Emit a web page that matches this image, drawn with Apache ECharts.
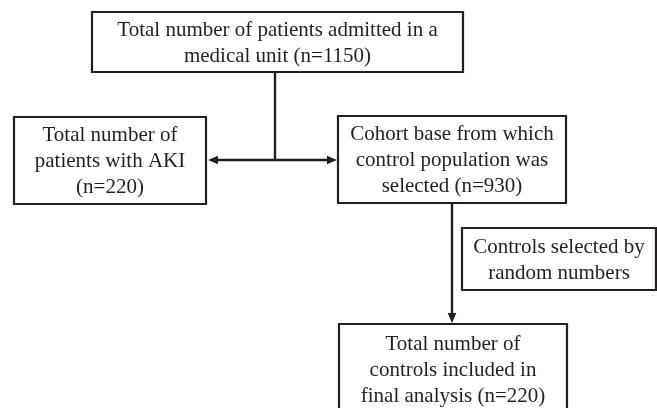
<!DOCTYPE html>
<html>
<head>
<meta charset="utf-8">
<script src="https://cdn.jsdelivr.net/npm/echarts@6/dist/echarts.min.js"></script>
<style>html,body{margin:0;padding:0;background:#fff;}#c{width:657px;height:408px;}</style>
</head>
<body>
<div id="c"></div>
<script>
// Flowchart content
const nodeLabels = [
  "Total number of patients admitted in a\nmedical unit (n=1150)",
  "Total number of\npatients with AKI\n(n=220)",
  "Cohort base from which\ncontrol population was\nselected (n=930)",
  "Controls selected by\nrandom numbers",
  "Total number of\ncontrols included in\nfinal analysis (n=220)"
];
const nodeCounts = [1150, 220, 930, null, 220];

// Layout (pixel space of the 657x408 canvas)
const boxLayout = [
  [92, 12, 463, 72],
  [14, 117, 206, 204],
  [338, 116, 566, 203],
  [462, 228, 656, 290],
  [339, 324, 567, 414]
];
// connectors: [x0,y0,x1,y1, arrowAtStart, arrowAtEnd]
const connectors = [
  [275, 72, 275, 160, 0, 0],
  [208, 160, 337, 160, 1, 1],
  [452, 203, 452, 323, 0, 1]
];

const INK = '#231f20';
const FONT = '"Liberation Serif", "Times New Roman", serif';

const chart = echarts.init(document.getElementById('c'), null, {renderer: 'canvas'});

function arrowHead(tip, dir, len, half) {
  const bx = tip[0] - dir[0] * len, by = tip[1] - dir[1] * len;
  const nx = -dir[1], ny = dir[0];
  return [[tip[0], tip[1]], [bx + nx * half, by + ny * half], [bx - nx * half, by - ny * half]];
}

chart.setOption({
  animation: false,
  backgroundColor: '#fff',
  grid: {left: 0, right: 0, top: 0, bottom: 0},
  xAxis: {type: 'value', min: 0, max: 657, show: false},
  yAxis: {type: 'value', min: 0, max: 408, inverse: true, show: false},
  series: [
    {
      type: 'custom',
      coordinateSystem: 'cartesian2d',
      data: connectors.map(c => c.slice()),
      renderItem: function (params, api) {
        const a = api.coord([api.value(0), api.value(1)]);
        const b = api.coord([api.value(2), api.value(3)]);
        const s = api.value(4), e = api.value(5);
        const dx = b[0] - a[0], dy = b[1] - a[1];
        const L = Math.sqrt(dx * dx + dy * dy);
        const u = [dx / L, dy / L];
        const children = [];
        const la = s ? [a[0] + u[0] * 7, a[1] + u[1] * 7] : a;
        const lb = e ? [b[0] - u[0] * 7, b[1] - u[1] * 7] : b;
        children.push({type: 'line', shape: {x1: la[0], y1: la[1], x2: lb[0], y2: lb[1]}, style: {stroke: INK, lineWidth: 2.4}});
        if (e) children.push({type: 'polygon', shape: {points: arrowHead(b, u, 10, 4.3)}, style: {fill: INK}});
        if (s) children.push({type: 'polygon', shape: {points: arrowHead(a, [-u[0], -u[1]], 10, 4.3)}, style: {fill: INK}});
        return {type: 'group', children: children};
      }
    },
    {
      type: 'custom',
      coordinateSystem: 'cartesian2d',
      data: boxLayout.map((b, i) => [b[0], b[1], b[2], b[3], i]),
      renderItem: function (params, api) {
        const p0 = api.coord([api.value(0), api.value(1)]);
        const p1 = api.coord([api.value(2), api.value(3)]);
        const idx = api.value(4);
        return {
          type: 'rect',
          shape: {x: p0[0], y: p0[1], width: p1[0] - p0[0], height: p1[1] - p0[1]},
          style: {fill: '#fff', stroke: INK, lineWidth: 2.2},
          textContent: {
            style: {
              text: nodeLabels[idx],
              fill: '#231f20',
              fontFamily: FONT,
              fontSize: 21,
              lineHeight: 26,
              align: 'center',
              verticalAlign: 'middle'
            }
          },
          textConfig: {position: 'inside', offset: [0, 1]}
        };
      }
    }
  ]
});
</script>
</body>
</html>
